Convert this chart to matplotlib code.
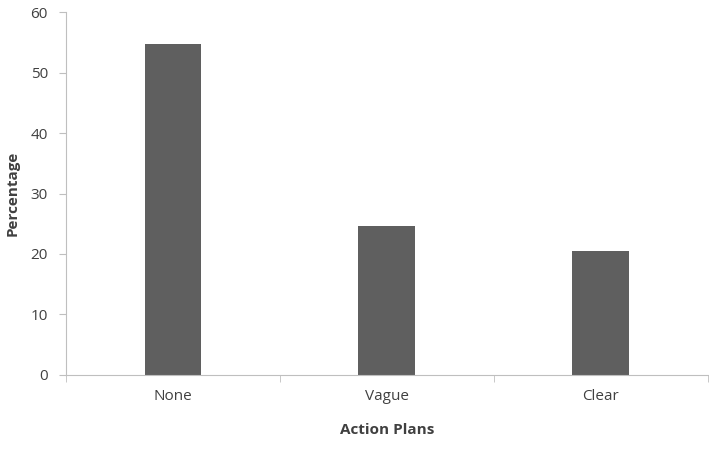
import matplotlib
matplotlib.use("Agg")
import matplotlib.pyplot as plt

categories = ["None", "Vague", "Clear"]
values = [54.7, 24.6, 20.5]
yticks = [0, 10, 20, 30, 40, 50, 60]

plt.rcParams['font.family'] = ['Open Sans', 'DejaVu Sans']
fig = plt.figure(figsize=(7.09, 4.49), dpi=100)
ax = fig.add_axes([0.093, 0.165, 0.905, 0.808])
x = range(len(categories))
ax.bar(x, values, width=0.265, color="#5f5f5f")
ax.set_xlim(-0.5, 2.5)
ax.set_ylim(0, 60)
ax.set_yticks(yticks)
ax.set_xticks(list(x))
ax.set_xticklabels(categories)
ax.set_xticks([-0.5, 0.5, 1.5, 2.5], minor=True)
ax.tick_params(axis='x', which='major', length=0, pad=10)
ax.tick_params(axis='x', which='minor', length=5, color="#bfbfbf")
ax.tick_params(axis='y', length=5, color="#bfbfbf", pad=8)
ax.tick_params(labelsize=11, labelcolor="#404040")
for s in ["top", "right"]:
    ax.spines[s].set_visible(False)
for s in ["left", "bottom"]:
    ax.spines[s].set_color("#bfbfbf")
ax.set_xlabel("Action Plans", fontsize=11, fontweight="bold", color="#404040", labelpad=14)
ax.set_ylabel("Percentage", fontsize=11, fontweight="bold", color="#404040", labelpad=8)
fig.savefig("out.png", dpi=100)
